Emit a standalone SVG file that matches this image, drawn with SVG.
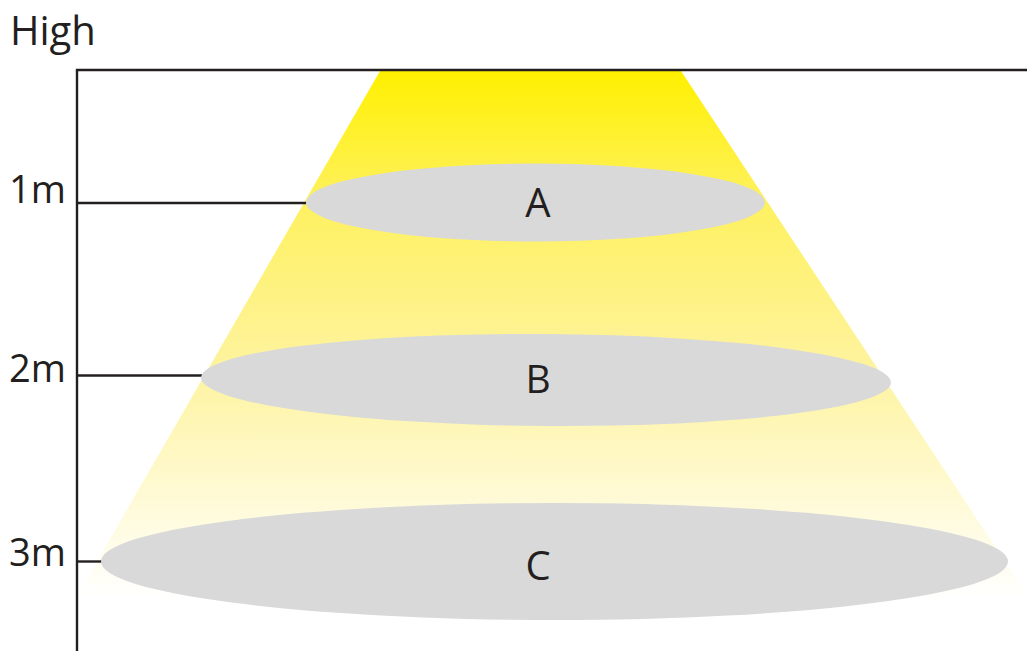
<svg xmlns="http://www.w3.org/2000/svg" width="1027" height="651" viewBox="0 0 1027 651">
  <defs>
    <linearGradient id="beam" x1="0" y1="71" x2="0" y2="598" gradientUnits="userSpaceOnUse">
      <stop offset="0" stop-color="#FFF000"/>
      <stop offset="0.25" stop-color="#FEF160"/>
      <stop offset="0.55" stop-color="#FEF39C"/>
      <stop offset="1" stop-color="#FFFFFF"/>
    </linearGradient>
  </defs>
  <style>
    .axis { stroke: #231f20; stroke-width: 2.4; fill: none; }
    .spot { fill: #d9d9d9; }
    .lbl { font-family: "Open Sans", "Liberation Sans", sans-serif; fill: #231f20; }
  </style>
  <rect width="1027" height="651" fill="#ffffff"/>
  <g id="beam-cone">
    <polygon points="380,71 681,71 1029,598 76,598" fill="url(#beam)"/>
  </g>
  <g id="axes">
    <polyline class="axis" points="77,651 77,70 1027,70"/>
    <text class="lbl" x="10" y="45" font-size="40">High</text>
  </g>
  <g id="connectors">
    <line class="axis" x1="77" y1="203" x2="306" y2="203"/>
    <line class="axis" x1="77" y1="375.5" x2="202" y2="375.5"/>
    <line class="axis" x1="77" y1="561.5" x2="104" y2="561.5"/>
  </g>
  <g id="tick-1m"><text class="lbl" x="9" y="203" font-size="38">1m</text></g>
  <g id="tick-2m"><text class="lbl" x="9" y="382" font-size="38">2m</text></g>
  <g id="tick-3m"><text class="lbl" x="9" y="566" font-size="38">3m</text></g>
  <g id="node-A">
    <ellipse class="spot" cx="535.5" cy="202.5" rx="229.5" ry="39"/>
    <text class="lbl" x="538" y="217" font-size="40" text-anchor="middle">A</text>
  </g>
  <g id="node-B">
    <ellipse class="spot" cx="546" cy="380" rx="345" ry="46" transform="rotate(0.4 546 380)"/>
    <text class="lbl" x="538" y="393" font-size="39" text-anchor="middle">B</text>
  </g>
  <g id="node-C">
    <ellipse class="spot" cx="554.5" cy="561.5" rx="453.5" ry="58.5"/>
    <text class="lbl" x="538" y="580" font-size="40" text-anchor="middle">C</text>
  </g>
</svg>
